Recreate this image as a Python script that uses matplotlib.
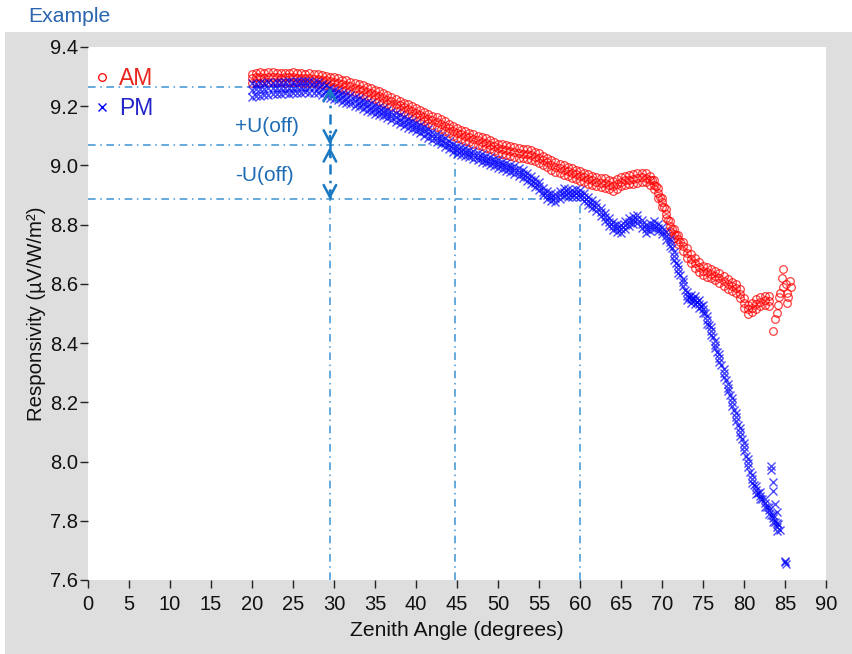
import matplotlib
matplotlib.use("Agg")
import matplotlib.pyplot as plt
from matplotlib.patches import Rectangle

plt.rcParams['font.family'] = ['Liberation Sans', 'DejaVu Sans']

# === DATA ===
# AM sweep, half-degree steps 20..83 (upper edge, middle, lower edge of the band)
am_angle = [20.0, 20.5, 21.0, 21.5, 22.0, 22.5, 23.0, 23.5, 24.0, 24.5, 25.0, 25.5, 26.0, 26.5, 27.0, 27.5,
            28.0, 28.5, 29.0, 29.5, 30.0, 30.5, 31.0, 31.5, 32.0, 32.5, 33.0, 33.5, 34.0, 34.5, 35.0, 35.5,
            36.0, 36.5, 37.0, 37.5, 38.0, 38.5, 39.0, 39.5, 40.0, 40.5, 41.0, 41.5, 42.0, 42.5, 43.0, 43.5,
            44.0, 44.5, 45.0, 45.5, 46.0, 46.5, 47.0, 47.5, 48.0, 48.5, 49.0, 49.5, 50.0, 50.5, 51.0, 51.5,
            52.0, 52.5, 53.0, 53.5, 54.0, 54.5, 55.0, 55.5, 56.0, 56.5, 57.0, 57.5, 58.0, 58.5, 59.0, 59.5,
            60.0, 60.5, 61.0, 61.5, 62.0, 62.5, 63.0, 63.5, 64.0, 64.5, 65.0, 65.5, 66.0, 66.5, 67.0, 67.5,
            68.0, 68.5, 69.0, 69.5, 70.0, 70.5, 71.0, 71.5, 72.0, 72.5, 73.0, 73.5, 74.0, 74.5, 75.0, 75.5,
            76.0, 76.5, 77.0, 77.5, 78.0, 78.5, 79.0, 79.5, 80.0, 80.5, 81.0, 81.5, 82.0, 82.5, 83.0]
am_upper = [9.310, 9.313, 9.314, 9.312, 9.316, 9.314, 9.313, 9.311, 9.313, 9.312, 9.314, 9.311, 9.312, 9.310, 9.311, 9.308,
            9.308, 9.305, 9.303, 9.300, 9.297, 9.294, 9.290, 9.287, 9.283, 9.278, 9.274, 9.270, 9.265, 9.260, 9.255, 9.250,
            9.244, 9.238, 9.232, 9.225, 9.219, 9.212, 9.206, 9.200, 9.194, 9.188, 9.181, 9.174, 9.168, 9.162, 9.156, 9.149,
            9.141, 9.133, 9.126, 9.121, 9.116, 9.111, 9.106, 9.101, 9.096, 9.091, 9.086, 9.080, 9.074, 9.071, 9.068, 9.064,
            9.061, 9.058, 9.056, 9.054, 9.051, 9.046, 9.041, 9.033, 9.026, 9.018, 9.011, 9.006, 9.001, 8.996, 8.991, 8.986,
            8.981, 8.976, 8.971, 8.966, 8.961, 8.958, 8.956, 8.951, 8.946, 8.953, 8.961, 8.966, 8.968, 8.971, 8.974, 8.976,
            8.975, 8.966, 8.951, 8.923, 8.891, 8.853, 8.811, 8.786, 8.766, 8.743, 8.721, 8.701, 8.686, 8.673, 8.661, 8.656,
            8.651, 8.644, 8.636, 8.626, 8.616, 8.608, 8.601, 8.583, 8.551, 8.530, 8.536, 8.548, 8.556, 8.560, 8.558]
am_middle = [9.294, 9.297, 9.298, 9.296, 9.300, 9.297, 9.298, 9.296, 9.297, 9.297, 9.298, 9.296, 9.296, 9.295, 9.295, 9.293,
             9.292, 9.289, 9.287, 9.284, 9.281, 9.278, 9.274, 9.271, 9.267, 9.262, 9.258, 9.254, 9.249, 9.244, 9.239, 9.234,
             9.228, 9.222, 9.216, 9.209, 9.203, 9.196, 9.190, 9.184, 9.178, 9.172, 9.165, 9.158, 9.152, 9.146, 9.140, 9.133,
             9.125, 9.117, 9.110, 9.105, 9.100, 9.095, 9.090, 9.085, 9.080, 9.075, 9.070, 9.064, 9.058, 9.055, 9.052, 9.048,
             9.045, 9.042, 9.040, 9.038, 9.035, 9.030, 9.025, 9.017, 9.010, 9.002, 8.995, 8.990, 8.985, 8.980, 8.975, 8.970,
             8.965, 8.960, 8.955, 8.950, 8.945, 8.942, 8.940, 8.935, 8.930, 8.937, 8.945, 8.950, 8.952, 8.955, 8.958, 8.960,
             8.959, 8.950, 8.935, 8.907, 8.875, 8.837, 8.795, 8.770, 8.750, 8.727, 8.705, 8.685, 8.670, 8.657, 8.645, 8.640,
             8.635, 8.628, 8.620, 8.610, 8.600, 8.592, 8.585, 8.567, 8.535, 8.514, 8.520, 8.532, 8.540, 8.544, 8.542]
am_lower = [9.278, 9.282, 9.280, 9.284, 9.283, 9.281, 9.283, 9.282, 9.280, 9.282, 9.281, 9.282, 9.279, 9.280, 9.278, 9.278,
            9.275, 9.274, 9.271, 9.269, 9.266, 9.262, 9.259, 9.255, 9.252, 9.247, 9.242, 9.238, 9.234, 9.228, 9.224, 9.218,
            9.212, 9.206, 9.200, 9.193, 9.187, 9.180, 9.174, 9.168, 9.162, 9.155, 9.149, 9.142, 9.136, 9.130, 9.124, 9.117,
            9.109, 9.101, 9.094, 9.089, 9.084, 9.079, 9.074, 9.069, 9.064, 9.059, 9.054, 9.048, 9.042, 9.039, 9.036, 9.032,
            9.029, 9.026, 9.024, 9.022, 9.019, 9.014, 9.009, 9.001, 8.994, 8.986, 8.979, 8.974, 8.969, 8.964, 8.959, 8.954,
            8.949, 8.944, 8.939, 8.934, 8.929, 8.926, 8.924, 8.919, 8.914, 8.921, 8.929, 8.934, 8.936, 8.939, 8.942, 8.944,
            8.943, 8.934, 8.919, 8.891, 8.859, 8.821, 8.779, 8.754, 8.734, 8.711, 8.689, 8.669, 8.654, 8.641, 8.629, 8.624,
            8.619, 8.612, 8.604, 8.594, 8.584, 8.576, 8.569, 8.551, 8.519, 8.498, 8.504, 8.516, 8.524, 8.528, 8.526]
# extra readings on the steep drop near 70 degrees
am_steep_angle = [68.75, 69.25, 69.75, 70.25, 70.75, 71.25, 71.75, 72.25]
am_steep_resp = [8.952, 8.930, 8.895, 8.860, 8.815, 8.785, 8.765, 8.740]
am_tail_angle = [83.5, 83.8, 84.0, 84.2, 84.3, 84.4, 84.6, 84.7, 84.8, 85.1, 85.2, 85.3, 85.4, 85.6, 85.7]
am_tail_resp = [8.44, 8.48, 8.50, 8.53, 8.555, 8.57, 8.62, 8.65, 8.59, 8.60, 8.57, 8.535, 8.555, 8.61, 8.59]

# PM sweep, half-degree steps 20..84
pm_angle = [20.0, 20.5, 21.0, 21.5, 22.0, 22.5, 23.0, 23.5, 24.0, 24.5, 25.0, 25.5, 26.0, 26.5, 27.0, 27.5,
            28.0, 28.5, 29.0, 29.5, 30.0, 30.5, 31.0, 31.5, 32.0, 32.5, 33.0, 33.5, 34.0, 34.5, 35.0, 35.5,
            36.0, 36.5, 37.0, 37.5, 38.0, 38.5, 39.0, 39.5, 40.0, 40.5, 41.0, 41.5, 42.0, 42.5, 43.0, 43.5,
            44.0, 44.5, 45.0, 45.5, 46.0, 46.5, 47.0, 47.5, 48.0, 48.5, 49.0, 49.5, 50.0, 50.5, 51.0, 51.5,
            52.0, 52.5, 53.0, 53.5, 54.0, 54.5, 55.0, 55.5, 56.0, 56.5, 57.0, 57.5, 58.0, 58.5, 59.0, 59.5,
            60.0, 60.5, 61.0, 61.5, 62.0, 62.5, 63.0, 63.5, 64.0, 64.5, 65.0, 65.5, 66.0, 66.5, 67.0, 67.5,
            68.0, 68.5, 69.0, 69.5, 70.0, 70.5, 71.0, 71.5, 72.0, 72.5, 73.0, 73.5, 74.0, 74.5, 75.0, 75.5,
            76.0, 76.5, 77.0, 77.5, 78.0, 78.5, 79.0, 79.5, 80.0, 80.5, 81.0, 81.5, 82.0, 82.5, 83.0, 83.5, 84.0]
pm_upper = [9.278, 9.276, 9.280, 9.279, 9.281, 9.280, 9.283, 9.282, 9.281, 9.284, 9.282, 9.284, 9.286, 9.285, 9.285, 9.283,
            9.281, 9.276, 9.270, 9.263, 9.256, 9.250, 9.245, 9.241, 9.237, 9.232, 9.227, 9.221, 9.215, 9.210, 9.205, 9.199,
            9.194, 9.188, 9.182, 9.176, 9.169, 9.162, 9.156, 9.150, 9.144, 9.136, 9.129, 9.122, 9.114, 9.106, 9.099, 9.091,
            9.082, 9.074, 9.066, 9.062, 9.058, 9.053, 9.048, 9.043, 9.038, 9.033, 9.028, 9.023, 9.018, 9.013, 9.008, 9.003,
            8.998, 8.991, 8.983, 8.973, 8.963, 8.953, 8.943, 8.925, 8.913, 8.906, 8.903, 8.913, 8.923, 8.921, 8.918, 8.919,
            8.918, 8.906, 8.893, 8.883, 8.873, 8.856, 8.838, 8.823, 8.808, 8.801, 8.798, 8.811, 8.823, 8.829, 8.833, 8.816,
            8.798, 8.806, 8.813, 8.803, 8.793, 8.775, 8.753, 8.708, 8.663, 8.618, 8.573, 8.563, 8.558, 8.545, 8.528, 8.491,
            8.453, 8.408, 8.363, 8.313, 8.263, 8.213, 8.163, 8.113, 8.063, 8.008, 7.953, 7.918, 7.898, 7.873, 7.848, 7.821, 7.793]
pm_middle = [9.255, 9.257, 9.258, 9.259, 9.260, 9.261, 9.262, 9.262, 9.262, 9.263, 9.262, 9.264, 9.265, 9.266, 9.265, 9.264,
             9.262, 9.257, 9.252, 9.246, 9.240, 9.235, 9.230, 9.226, 9.222, 9.217, 9.212, 9.206, 9.200, 9.195, 9.190, 9.185,
             9.180, 9.174, 9.168, 9.162, 9.155, 9.148, 9.142, 9.136, 9.130, 9.122, 9.115, 9.108, 9.100, 9.092, 9.085, 9.077,
             9.068, 9.060, 9.052, 9.048, 9.045, 9.040, 9.035, 9.030, 9.025, 9.020, 9.015, 9.010, 9.005, 9.000, 8.995, 8.990,
             8.985, 8.978, 8.970, 8.960, 8.950, 8.940, 8.930, 8.912, 8.900, 8.893, 8.890, 8.900, 8.910, 8.908, 8.905, 8.906,
             8.905, 8.893, 8.880, 8.870, 8.860, 8.843, 8.825, 8.810, 8.795, 8.788, 8.785, 8.798, 8.810, 8.816, 8.820, 8.803,
             8.785, 8.793, 8.800, 8.790, 8.780, 8.762, 8.740, 8.695, 8.650, 8.605, 8.560, 8.550, 8.545, 8.532, 8.515, 8.478,
             8.440, 8.395, 8.350, 8.300, 8.250, 8.200, 8.150, 8.100, 8.050, 7.995, 7.940, 7.905, 7.885, 7.860, 7.835, 7.808, 7.780]
pm_lower = [9.232, 9.236, 9.235, 9.239, 9.238, 9.241, 9.240, 9.242, 9.243, 9.241, 9.243, 9.244, 9.245, 9.247, 9.245, 9.245,
            9.243, 9.238, 9.234, 9.229, 9.224, 9.220, 9.215, 9.211, 9.207, 9.202, 9.197, 9.191, 9.185, 9.180, 9.175, 9.171,
            9.166, 9.160, 9.154, 9.148, 9.141, 9.134, 9.128, 9.122, 9.116, 9.108, 9.101, 9.094, 9.086, 9.078, 9.071, 9.063,
            9.054, 9.046, 9.038, 9.034, 9.032, 9.027, 9.022, 9.017, 9.012, 9.007, 9.002, 8.997, 8.992, 8.987, 8.982, 8.977,
            8.972, 8.965, 8.957, 8.947, 8.937, 8.927, 8.917, 8.899, 8.887, 8.880, 8.877, 8.887, 8.897, 8.895, 8.892, 8.893,
            8.892, 8.880, 8.867, 8.857, 8.847, 8.830, 8.812, 8.797, 8.782, 8.775, 8.772, 8.785, 8.797, 8.803, 8.807, 8.790,
            8.772, 8.780, 8.787, 8.777, 8.767, 8.749, 8.727, 8.682, 8.637, 8.592, 8.547, 8.537, 8.532, 8.519, 8.502, 8.465,
            8.427, 8.382, 8.337, 8.287, 8.237, 8.187, 8.137, 8.087, 8.037, 7.982, 7.927, 7.892, 7.872, 7.847, 7.822, 7.795, 7.767]
# extra readings on the steep drop beyond 71 degrees
pm_steep_angle = [71.25, 71.75, 72.25, 72.75, 73.25, 73.75, 74.25, 74.75, 75.25, 75.75, 76.25, 76.75, 77.25,
                  77.75, 78.25, 78.75, 79.25, 79.75, 80.25, 80.75, 81.25, 81.75, 82.25, 82.75, 83.25, 83.75]
pm_steep_resp = [8.720, 8.670, 8.630, 8.580, 8.555, 8.548, 8.540, 8.525, 8.500, 8.460, 8.420, 8.370, 8.325,
                 8.275, 8.225, 8.175, 8.125, 8.075, 8.020, 7.965, 7.920, 7.895, 7.875, 7.845, 7.820, 7.795]
pm_tail_angle = [83.3, 83.3, 83.5, 83.5, 83.8, 84.0, 84.2, 84.4, 84.95, 85.0, 85.1]
pm_tail_resp = [7.985, 7.970, 7.930, 7.900, 7.855, 7.830, 7.790, 7.770, 7.660, 7.665, 7.655]

# offset levels and the angles they are read at
off_levels = [9.265, 9.07, 8.885]
off_angles = [29.5, 44.8, 60.0]

x_ticks = list(range(0, 91, 5))
y_ticks = [7.6, 7.8, 8.0, 8.2, 8.4, 8.6, 8.8, 9.0, 9.2, 9.4]

# === FIGURE ===
fig = plt.figure(figsize=(8.52, 6.54), dpi=100)
fig.patches.append(Rectangle((5 / 852, 0), 1, (654 - 32) / 654, transform=fig.transFigure,
                             facecolor='#dedede', edgecolor='none', zorder=-10))
fig.text(28 / 852, 1 - 17 / 654, "Example", color='#2a64ad', fontsize=15.2, va='center', ha='left')

ax = fig.add_axes([88 / 852, (654 - 580) / 654, (826 - 88) / 852, (580 - 47) / 654])
ax.set_facecolor('white')

ref_col = '#3a93d4'
dash = (0, (5, 3, 1, 3))
for lvl, ang in zip(off_levels, off_angles):
    ax.plot([0, ang], [lvl, lvl], color=ref_col, lw=1.1, linestyle=dash, zorder=1)
ax.plot([off_angles[0]] * 2, [7.6, off_levels[2]], color=ref_col, lw=1.1, linestyle=dash, zorder=1)
for lvl, ang in zip(off_levels[1:], off_angles[1:]):
    ax.plot([ang, ang], [7.6, lvl], color=ref_col, lw=1.1, linestyle=dash, zorder=1)

# offset arrows
arr_col = '#1b78c2'
ax.plot([off_angles[0]] * 2, [off_levels[2], off_levels[0]], color=arr_col, lw=1.8,
        linestyle=(0, (4, 2.5, 1, 2.5)), zorder=4)
heads = [(off_levels[0], off_levels[0] - 0.03), (off_levels[1], off_levels[1] + 0.03),
         (off_levels[1] - 0.008, off_levels[1] - 0.038), (off_levels[2], off_levels[2] + 0.03)]
for tip, tail in heads:
    ax.annotate('', xy=(off_angles[0], tip), xytext=(off_angles[0], tail),
                arrowprops=dict(arrowstyle='->,head_length=0.85,head_width=0.45', color=arr_col, lw=1.8,
                                shrinkA=0, shrinkB=0), zorder=5)
ax.text(17.9, 9.132, "+U(off)", color='#1f6cb5', fontsize=15, va='center', ha='left')
ax.text(17.9, 8.966, "-U(off)", color='#1f6cb5', fontsize=15, va='center', ha='left')

# data
am_style = dict(linestyle='none', marker='o', ms=5.5, mfc='none', mec='red', mew=0.9, alpha=0.75, zorder=2)
pm_style = dict(linestyle='none', marker='x', ms=5.8, color='blue', mew=1.0, alpha=0.7, zorder=3)
ax.plot(am_angle, am_upper, **am_style)
ax.plot(am_angle, am_middle, **am_style)
ax.plot(am_angle, am_lower, **am_style)
ax.plot(am_steep_angle, am_steep_resp, **am_style)
ax.plot(am_tail_angle, am_tail_resp, **am_style)
ax.plot(pm_angle, pm_upper, **pm_style)
ax.plot(pm_angle, pm_middle, **pm_style)
ax.plot(pm_angle, pm_lower, **pm_style)
ax.plot(pm_steep_angle, pm_steep_resp, **pm_style)
ax.plot(pm_tail_angle, pm_tail_resp, **pm_style)

h_am, = ax.plot([], [], linestyle='none', marker='o', ms=5.5, mfc='none', mec='red', mew=0.9, color='red')
h_pm, = ax.plot([], [], linestyle='none', marker='x', ms=5.5, color='blue', mew=1.0)
leg = ax.legend([h_am, h_pm], ['AM', 'PM'], loc='upper left', bbox_to_anchor=(-0.009, 0.988),
                frameon=False, fontsize=16.5, handlelength=0.6, handletextpad=0.45,
                labelspacing=0.28, borderaxespad=0.2, labelcolor=['#e8261e', '#2424c8'])

ax.set_xlim(0, 90)
ax.set_ylim(7.6, 9.4)
ax.set_xticks(x_ticks)
ax.set_yticks(y_ticks)
ax.set_yticklabels([f"{v:.1f}" for v in y_ticks])
for s in ax.spines.values():
    s.set_visible(False)
ax.tick_params(axis='both', direction='out', length=6, width=1.0, color='#222222',
               labelsize=14.5, labelcolor='#111111')
ax.tick_params(axis='x', pad=4.5)
ax.tick_params(axis='y', pad=1)
ax.set_xlabel("Zenith Angle (degrees)", fontsize=15.2, color='#111111', labelpad=5)
ax.set_ylabel("Responsivity (µV/W/m²)", fontsize=14.7, color='#111111', labelpad=3)

fig.savefig("out.png", dpi=100, facecolor='white')
